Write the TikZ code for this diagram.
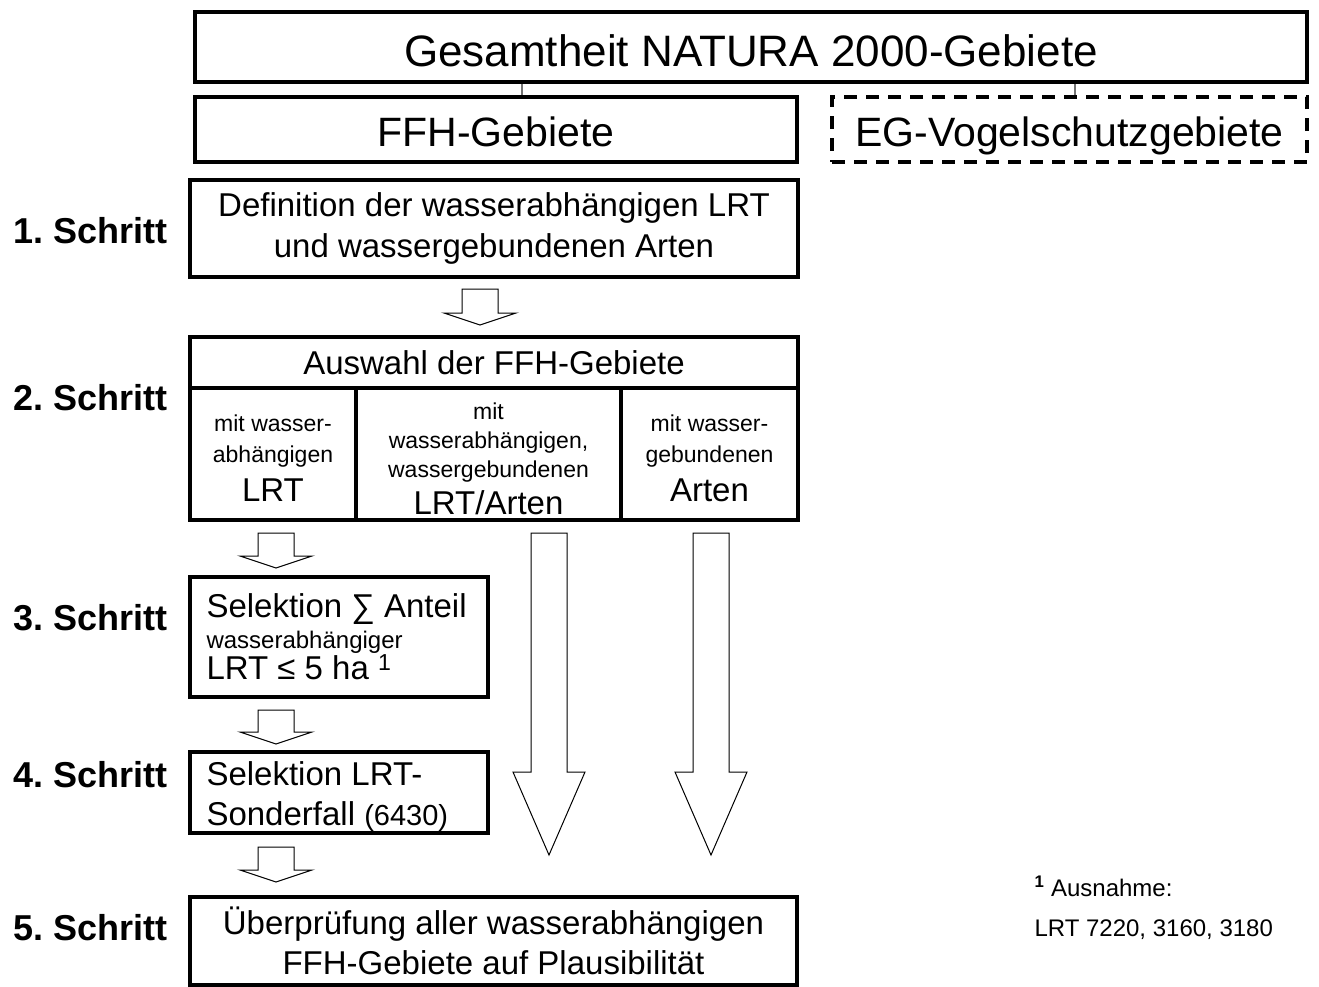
\documentclass[tikz,border=0pt]{standalone}
\usepackage{fontspec}
\setmainfont{Liberation Sans}
\frenchspacing
\tikzstyle{box}=[draw, line width=3.5pt, inner sep=0pt, align=center]
\tikzstyle{dbox}=[box, dash pattern=on 13pt off 9pt]
\tikzstyle{schritt}=[anchor=west, font=\fontsize{36}{40}\selectfont\bfseries]
\tikzstyle{conn}=[draw, line width=2pt, black!55]
\tikzstyle{fat}=[draw, line width=1pt, fill=white]
\newcommand{\fatarrow}[4]{% x, top, head base, tip
  \draw[fat] (#1-18,#2) -- (#1+18,#2) -- (#1+18,#3) -- (#1+36,#3) -- (#1,#4)
    -- (#1-36,#3) -- (#1-18,#3) -- cycle;}
\newcommand{\smalltxt}{\fontsize{23}{31}\selectfont}
\newcommand{\bigtxt}{\fontsize{33}{41}\selectfont}

\begin{document}
\begin{tikzpicture}[x=1pt,y=-1pt]
  \useasboundingbox (0,0) rectangle (1319,986);

  \node[box, minimum width=1112pt, minimum height=70pt, text height=38pt, text depth=0pt, font=\fontsize{44}{50}\selectfont] (natura) at (751,47) {Gesamtheit NATURA 2000-Gebiete};
  \node[box, minimum width=602pt, minimum height=65pt, text height=34pt, text depth=0pt, font=\fontsize{41}{48}\selectfont] (ffh) at (496,129.5) {FFH-Gebiete};
  \node[dbox, minimum width=475pt, minimum height=65pt, text height=34pt, text depth=0pt, font=\fontsize{41}{48}\selectfont] (eg) at (1069.5,129.5) {EG-Vogelschutzgebiete};
  \coordinate (c1) at (522,0);
  \coordinate (c2) at (1075,0);
  \draw[conn] (natura.south -| c1) -- (ffh.north -| c1);
  \draw[conn] (natura.south -| c2) -- (eg.north -| c2);

  \node[box, minimum width=608pt, minimum height=97pt, font=\bigtxt] (step1) at (494,228.5) {Definition der wasserabhängigen LRT\\und wassergebundenen Arten};

  % step 2 with three columns
  \node[box, minimum width=608pt, minimum height=183pt] (step2) at (494,428.5) {};
  \node[font=\bigtxt] (auswahl) at (494,362.5) {Auswahl der FFH-Gebiete};
  \coordinate (hline) at (0,388);
  \coordinate (div1) at (356,0);
  \coordinate (div2) at (621,0);
  \draw[line width=3.5pt] (step2.west |- hline) -- (step2.east |- hline);
  \draw[line width=3.5pt] (step2.south -| div1) -- (hline -| div1);
  \draw[line width=3.5pt] (step2.south -| div2) -- (hline -| div2);
  \node[align=center, font=\smalltxt] (col1) at (273,458) {mit wasser-\\abhängigen\\[8pt]{\bigtxt LRT}};
  \node[align=center, font=\fontsize{23}{29}\selectfont] (col2) at (488.5,459) {mit\\wasserabhängigen,\\wassergebundenen\\[8pt]{\bigtxt LRT/Arten}};
  \node[align=center, font=\smalltxt] (col3) at (709.5,458) {mit wasser-\\gebundenen\\[8pt]{\bigtxt Arten}};

  \node[box, minimum width=298pt, minimum height=120pt] (step3) at (339,637) {};
  \node[anchor=west, align=left, font=\fontsize{33}{31}\selectfont] (sel1) at (203,637) {Selektion ∑ Anteil\\{\fontsize{24}{31}\selectfont wasserabhängiger}\\LRT ≤ 5 ha \textsuperscript{1}};
  \node[box, minimum width=298pt, minimum height=81pt] (step4) at (339,792.5) {};
  \node[anchor=west, align=left, font=\fontsize{33}{40}\selectfont] (sel2) at (203,797) {Selektion LRT-\\Sonderfall {\fontsize{29}{34}\selectfont (6430)}};
  \node[box, minimum width=607pt, minimum height=88pt, font=\fontsize{33}{40}\selectfont] (step5) at (493.5,941) {Überprüfung aller wasserabhängigen\\FFH-Gebiete auf Plausibilität};

  % block arrows
  \fatarrow{480}{289}{313}{325}
  \fatarrow{276}{533}{556}{568}
  \fatarrow{276}{710}{732}{744}
  \fatarrow{276}{847}{870}{882}
  \fatarrow{549}{533}{772}{855}
  \fatarrow{711}{533}{772}{855}

  \node[schritt] (s1) at (10,231) {1. Schritt};
  \node[schritt] (s2) at (10,398) {2. Schritt};
  \node[schritt] (s3) at (10,618) {3. Schritt};
  \node[schritt] (s4) at (10,775) {4. Schritt};
  \node[schritt] (s5) at (10,928) {5. Schritt};

  \node[anchor=north west, align=left, font=\fontsize{24}{40}\selectfont] (fn) at (1031,872) {\textsuperscript{\bfseries 1} Ausnahme:\\LRT 7220, 3160, 3180};
\end{tikzpicture}
\end{document}
